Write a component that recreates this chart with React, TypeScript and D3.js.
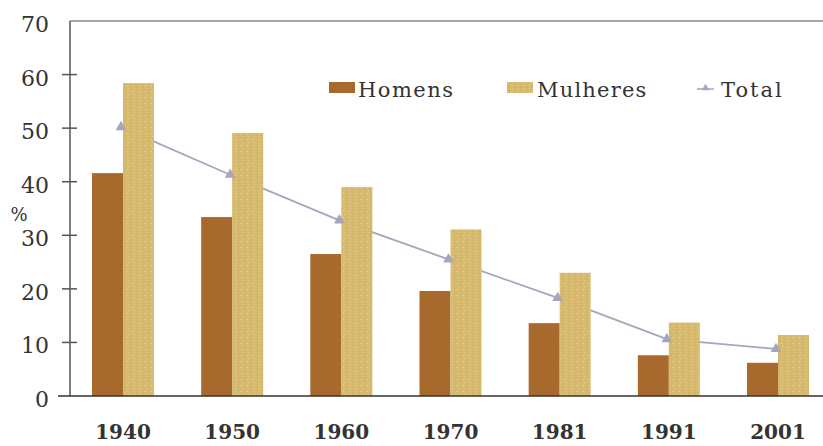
import React from "react";
import * as d3 from "d3";

const years = ["1940", "1950", "1960", "1970", "1981", "1991", "2001"];
const homens = [41.6, 33.4, 26.5, 19.6, 13.6, 7.6, 6.2];
const mulheres = [58.4, 49.1, 39.0, 31.1, 23.0, 13.7, 11.4];
const total = [50.2, 41.3, 32.8, 25.5, 18.3, 10.6, 8.8];
const yTicks = [0, 10, 20, 30, 40, 50, 60, 70];
const seriesNames = ["Homens", "Mulheres", "Total"];

const W = 823;
const H = 446;
const AXIS_X = 70;
const TOP = 21;
const BASE = 396;
const BAR_W = 31;

const C_HOM = "#a8692c";
const C_MUL = "#d7ba6e";
const C_TOT = "#a3a6bc";
const SERIF = "'DejaVu Serif', 'Liberation Serif', serif";

export default function App() {
  const x = d3.scalePoint<string>().domain(years).range([123, 778]);
  const y = d3.scaleLinear().domain([0, 70]).range([BASE, TOP]);

  const line = d3
    .line<number>()
    .x((_, i) => (x(years[i]) as number) - 2)
    .y((d) => y(d));

  const tri = d3.symbol().type(d3.symbolTriangle).size(50)();

  return (
    <svg width={W} height={H} style={{ position: "absolute", left: 0, top: 0, background: "#fff" }}>
      <defs>
        <pattern id="speck" width="6" height="6" patternUnits="userSpaceOnUse">
          <rect width="6" height="6" fill={C_MUL} />
          <rect x="1" y="1" width="1" height="1" fill="#e6d39c" />
          <rect x="4" y="3" width="1" height="1" fill="#c9a95a" />
          <rect x="2" y="4" width="1" height="1" fill="#e3cc91" />
          <rect x="5" y="0" width="1" height="1" fill="#cfae60" />
        </pattern>
      </defs>

      {/* top frame line */}
      <line x1={AXIS_X} x2={W} y1={TOP} y2={TOP} stroke="#8a8a8a" strokeWidth={1.5} />

      {/* y axis */}
      <line x1={AXIS_X} x2={AXIS_X} y1={TOP} y2={BASE} stroke="#555" strokeWidth={1.5} />
      {yTicks.map((t) => (
        <g key={t}>
          {t !== 0 && t !== 70 && (
            <line x1={62} x2={77} y1={y(t)} y2={y(t)} stroke="#555" strokeWidth={1.5} />
          )}
          <text
            x={49}
            y={y(t) + 11}
            textAnchor="end"
            fontFamily={SERIF}
            fontSize={22}
            fill="#333"
          >
            {t}
          </text>
        </g>
      ))}
      <text x={19} y={221} textAnchor="middle" fontFamily={SERIF} fontSize={18} fill="#333">
        %
      </text>

      {/* total line (behind bars) */}
      <path d={line(total) as string} fill="none" stroke={C_TOT} strokeWidth={1.8} />

      {/* bars */}
      {years.map((yr, i) => {
        const cx = x(yr) as number;
        return (
          <g key={yr}>
            <rect x={cx - BAR_W} y={y(homens[i])} width={BAR_W} height={BASE - y(homens[i])} fill={C_HOM} />
            <rect x={cx} y={y(mulheres[i])} width={BAR_W} height={BASE - y(mulheres[i])} fill="url(#speck)" />
          </g>
        );
      })}

      {/* markers */}
      {total.map((v, i) => (
        <path
          key={i}
          d={tri as string}
          transform={`translate(${(x(years[i]) as number) - 2},${y(v)})`}
          fill={C_TOT}
        />
      ))}

      {/* baseline */}
      <line x1={58} x2={W} y1={BASE} y2={BASE} stroke="#333" strokeWidth={1.6} />

      {/* x labels */}
      {years.map((yr) => (
        <text
          key={yr}
          x={x(yr) as number}
          y={439}
          textAnchor="middle"
          fontFamily={SERIF}
          fontWeight="bold"
          fontSize={20}
          fill="#333"
        >
          {yr}
        </text>
      ))}

      {/* legend */}
      <rect x={329} y={82} width={26} height={11} fill={C_HOM} />
      <text x={358} y={97} fontFamily={SERIF} fontSize={21} letterSpacing={1.5} fill="#333">
        {seriesNames[0]}
      </text>
      <rect x={507} y={82} width={26} height={11} fill="url(#speck)" />
      <text x={537} y={97} fontFamily={SERIF} fontSize={21} letterSpacing={1.2} fill="#333">
        {seriesNames[1]}
      </text>
      <line x1={697} x2={714} y1={89} y2={89} stroke={C_TOT} strokeWidth={1.5} />
      <path d={tri as string} transform="translate(705.5,88) scale(0.7)" fill={C_TOT} />
      <text x={721} y={97} fontFamily={SERIF} fontSize={21} letterSpacing={2} fill="#333">
        {seriesNames[2]}
      </text>
    </svg>
  );
}
